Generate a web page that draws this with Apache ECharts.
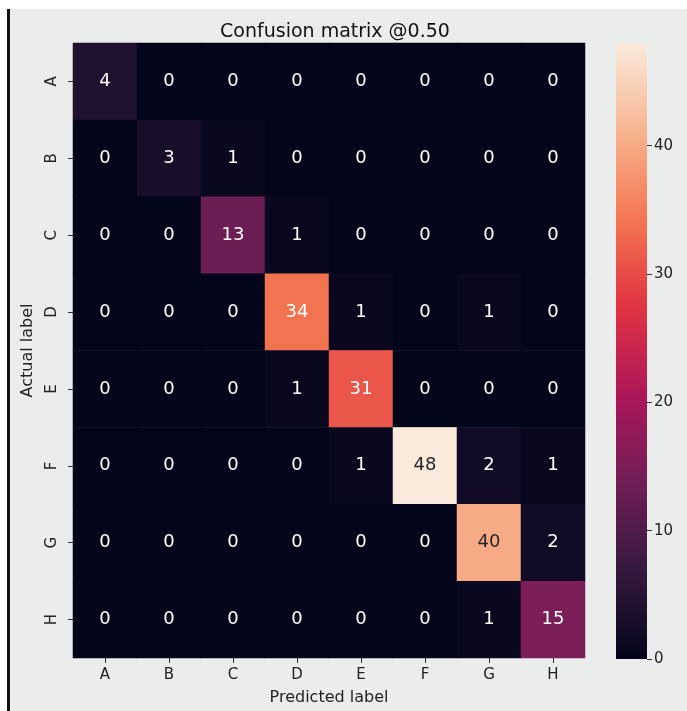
<!DOCTYPE html>
<html>
<head>
<meta charset="utf-8">
<script src="https://cdn.jsdelivr.net/npm/echarts@6/dist/echarts.min.js"></script>
<style>
  html, body { margin:0; padding:0; background:#ffffff; }
  #bg { position:absolute; left:7px; top:9px; width:680px; height:702px; background:#ebeded; border-left:3px solid #111; box-sizing:border-box; }
  #chart { position:absolute; left:0; top:0; width:687px; height:711px; }
</style>
</head>
<body>
<div id="bg"></div>
<div id="chart"></div>
<script>
const predictedLabels = ['A','B','C','D','E','F','G','H'];
const actualLabels = ['A','B','C','D','E','F','G','H'];
// rows = actual label, columns = predicted label
const matrix = [
  [4, 0, 0, 0, 0, 0, 0, 0],
  [0, 3, 1, 0, 0, 0, 0, 0],
  [0, 0, 13, 1, 0, 0, 0, 0],
  [0, 0, 0, 34, 1, 0, 1, 0],
  [0, 0, 0, 1, 31, 0, 0, 0],
  [0, 0, 0, 0, 1, 48, 2, 1],
  [0, 0, 0, 0, 0, 0, 40, 2],
  [0, 0, 0, 0, 0, 0, 1, 15]
];
const colorbarTicks = [0, 10, 20, 30, 40];
const rocket = ['#03051a', '#35193e', '#701f57', '#ad1759', '#e13342', '#f37651', '#f6b48f', '#faebdd'];

const vmax = Math.max(...matrix.flat());
const heatData = [];
matrix.forEach((row, r) => row.forEach((v, c) => {
  heatData.push({ value: [c, r, v], label: { color: v >= 38 ? '#262626' : '#ffffff' } });
}));
const gradStops = rocket.map((col, i) => ({ offset: i / (rocket.length - 1), color: col }));

const font = 'DejaVu Sans';
const chart = echarts.init(document.getElementById('chart'), null, { renderer: 'canvas' });
chart.setOption({
  backgroundColor: 'transparent',
  animation: false,
  title: {
    text: 'Confusion matrix @0.50',
    left: 330, top: 18, textAlign: 'center',
    textStyle: { fontFamily: font, fontSize: 19, fontWeight: 'normal', color: '#111' }
  },
  grid: [
    { left: 73, top: 43, width: 512, height: 616 },
    { left: 616, top: 43, width: 31, height: 616 }
  ],
  xAxis: [
    {
      type: 'category', gridIndex: 0, data: predictedLabels, position: 'bottom',
      name: 'Predicted label', nameLocation: 'middle', nameGap: 32,
      nameTextStyle: { fontFamily: font, fontSize: 16, color: '#222' },
      axisLine: { show: false },
      axisTick: { show: true, alignWithLabel: true, length: 5, lineStyle: { color: '#333' } },
      axisLabel: { fontFamily: font, fontSize: 15, color: '#222', margin: 10 },
      splitLine: { show: false }
    },
    {
      type: 'category', gridIndex: 1, data: [''], show: false
    }
  ],
  yAxis: [
    {
      type: 'category', gridIndex: 0, data: actualLabels, inverse: true,
      name: 'Actual label', nameLocation: 'middle', nameGap: 37, nameRotate: 90,
      nameTextStyle: { fontFamily: font, fontSize: 16, color: '#222' },
      axisLine: { show: false },
      axisTick: { show: true, alignWithLabel: true, length: 5, lineStyle: { color: '#333' } },
      axisLabel: { fontFamily: font, fontSize: 15, color: '#222', rotate: 90, margin: 13 },
      splitLine: { show: false }
    },
    {
      type: 'value', gridIndex: 1, min: 0, max: vmax, interval: 10, position: 'right',
      axisLine: { show: false },
      axisTick: { show: true, length: 5, lineStyle: { color: '#333' }, customValues: colorbarTicks },
      axisLabel: { fontFamily: font, fontSize: 15, color: '#222', margin: 7, customValues: colorbarTicks },
      splitLine: { show: false }
    }
  ],
  visualMap: {
    show: false, type: 'continuous', min: 0, max: vmax, seriesIndex: 0,
    inRange: { color: rocket }
  },
  series: [
    {
      type: 'heatmap', xAxisIndex: 0, yAxisIndex: 0, data: heatData,
      label: { show: true, fontFamily: font, fontSize: 18, formatter: p => String(p.value[2]) },
      itemStyle: { borderWidth: 0 },
      emphasis: { disabled: true }
    },
    {
      type: 'bar', xAxisIndex: 1, yAxisIndex: 1, data: [vmax], barWidth: '100%',
      itemStyle: { color: { type: 'linear', x: 0, y: 1, x2: 0, y2: 0, colorStops: gradStops } },
      silent: true
    }
  ]
});
</script>
</body>
</html>
